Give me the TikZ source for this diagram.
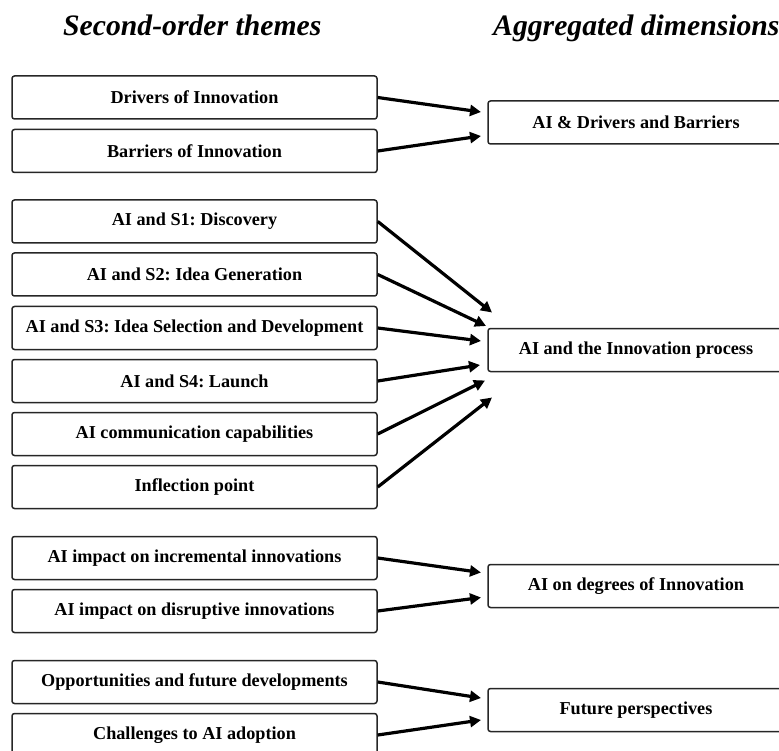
\documentclass[tikz,border=0pt]{standalone}
\usepackage{fontspec}
\setmainfont{Liberation Serif}
\usetikzlibrary{arrows.meta}
\frenchspacing

\begin{document}
\begin{tikzpicture}[x=1pt,y=-1pt,
  theme/.style={draw=black!85, line width=1.5pt, rounded corners=2.5pt,
    minimum width=365pt, minimum height=43pt, inner sep=0pt,
    font=\bfseries\fontsize{18.2}{20}\selectfont},
  dimension/.style={theme, minimum width=296pt},
  heading/.style={anchor=base west, inner sep=0pt,
    font=\bfseries\itshape\fontsize{29.7}{32}\selectfont},
  link/.style={line width=3.2pt, -{Triangle[length=11pt,width=11pt]}}]

\useasboundingbox (0,0) rectangle (779,751);
\clip (0,0) rectangle (779,751);

% column headings
\node[heading] (h1) at (63,36) {Second-order themes};
\node[heading] (h2) at (493,36) {Aggregated dimensions};

% second-order themes
\node[theme] (t1)  at (194.5,97.5) {Drivers of Innovation};
\node[theme] (t2)  at (194.5,151)  {Barriers of Innovation};
\node[theme] (t3)  at (194.5,221.5){AI and S1: Discovery};
\node[theme] (t4)  at (194.5,274.5){AI and S2: Idea Generation};
\node[theme] (t5)  at (194.5,328)  {AI and S3: Idea Selection and Development};
\node[theme] (t6)  at (194.5,381)  {AI and S4: Launch};
\node[theme] (t7)  at (194.5,434)  {AI communication capabilities};
\node[theme] (t8)  at (194.5,487)  {Inflection point};
\node[theme] (t9)  at (194.5,558)  {AI impact on incremental innovations};
\node[theme] (t10) at (194.5,611)  {AI impact on disruptive innovations};
\node[theme] (t11) at (194.5,682)  {Opportunities and future developments};
\node[theme] (t12) at (194.5,735)  {Challenges to AI adoption};

% aggregated dimensions
\node[dimension] (d1) at (636,122.5) {AI \& Drivers and Barriers};
\node[dimension] (d2) at (636,350)   {AI and the Innovation process};
\node[dimension] (d3) at (636,586)   {AI on degrees of Innovation};
\node[dimension] (d4) at (636,710)   {Future perspectives};

% arrow tips in front of each dimension
\coordinate (a1) at (481,112);
\coordinate (a2) at (481,136);
\coordinate (b1) at (492,312.5);
\coordinate (b2) at (486,326);
\coordinate (b3) at (481,341);
\coordinate (b4) at (480,365);
\coordinate (b5) at (485,380.5);
\coordinate (b6) at (492,397.5);
\coordinate (c1) at (481,572.5);
\coordinate (c2) at (481,597.5);
\coordinate (e1) at (481,698);
\coordinate (e2) at (481,720);

% links
\draw[link] (t1.east) -- (a1);
\draw[link] (t2.east) -- (a2);
\draw[link] (t3.east) -- (b1);
\draw[link] (t4.east) -- (b2);
\draw[link] (t5.east) -- (b3);
\draw[link] (t6.east) -- (b4);
\draw[link] (t7.east) -- (b5);
\draw[link] (t8.east) -- (b6);
\draw[link] (t9.east) -- (c1);
\draw[link] (t10.east) -- (c2);
\draw[link] (t11.east) -- (e1);
\draw[link] (t12.east) -- (e2);
\end{tikzpicture}
\end{document}
